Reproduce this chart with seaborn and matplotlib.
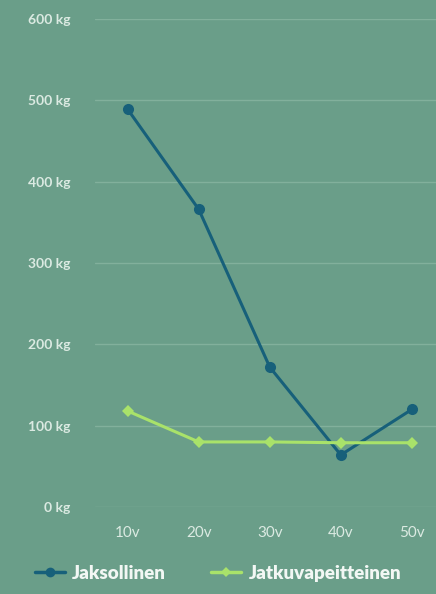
import pandas as pd
import matplotlib.pyplot as plt
import seaborn as sns

# data
ages = ['10v', '20v', '30v', '40v', '50v']
jaksollinen = [489, 366, 172, 64, 120]
jatkuva = [118, 80, 80, 79, 79]
y_ticks = [0, 100, 200, 300, 400, 500, 600]

df = pd.concat([
    pd.DataFrame({'ika': ages, 'kg': jaksollinen, 'sarja': 'Jaksollinen'}),
    pd.DataFrame({'ika': ages, 'kg': jatkuva, 'sarja': 'Jatkuvapeitteinen'}),
])

bg = '#6a9e89'
text_col = '#dbeae2'
sns.set_style('white', {'axes.facecolor': bg, 'figure.facecolor': bg})
plt.rcParams['font.family'] = ['Lato', 'DejaVu Sans']

fig = plt.figure(figsize=(4.36, 5.94), dpi=100)
ax = fig.add_axes([95 / 436, 1 - 507 / 594, 341 / 436, 488 / 594])

sns.lineplot(data=df, x='ika', y='kg', hue='sarja', style='sarja',
             palette={'Jaksollinen': '#17607a', 'Jatkuvapeitteinen': '#a9e26a'},
             markers={'Jaksollinen': 'o', 'Jatkuvapeitteinen': 'D'},
             dashes=False, linewidth=2.2, markeredgewidth=0, legend=False, ax=ax)
for line, ms in zip(ax.lines, [8, 6]):
    line.set_markersize(ms)

ax.set_ylim(0, 600)
ax.set_xlim(-0.46, 4.34)
ax.set_yticks(y_ticks)
ax.set_yticklabels([f'{v} kg' for v in y_ticks], fontweight='bold')
ax.yaxis.grid(True, color='#82b09c', linewidth=1)
ax.set_axisbelow(True)
for s in ax.spines.values():
    s.set_visible(False)
ax.tick_params(axis='both', length=0, colors=text_col, labelsize=10)
ax.tick_params(axis='y', pad=18)
ax.tick_params(axis='x', pad=14, labelsize=11)
ax.set_xlabel('')
ax.set_ylabel('')

handles = [
    plt.Line2D([], [], color='#17607a', marker='o', lw=2.5, ms=7, mew=0),
    plt.Line2D([], [], color='#a9e26a', marker='D', lw=2.5, ms=5, mew=0),
]
leg = fig.legend(handles, ['Jaksollinen', 'Jatkuvapeitteinen'], loc='lower center',
                 bbox_to_anchor=(0.5, -0.008), ncol=2, frameon=False, handlelength=1.6,
                 handletextpad=0.4, columnspacing=2.4,
                 prop={'family': 'Lato', 'weight': 'heavy', 'size': 13.5})
for t in leg.get_texts():
    t.set_color('#f2f7f4')

fig.savefig('out.png', dpi=100, facecolor=bg)
